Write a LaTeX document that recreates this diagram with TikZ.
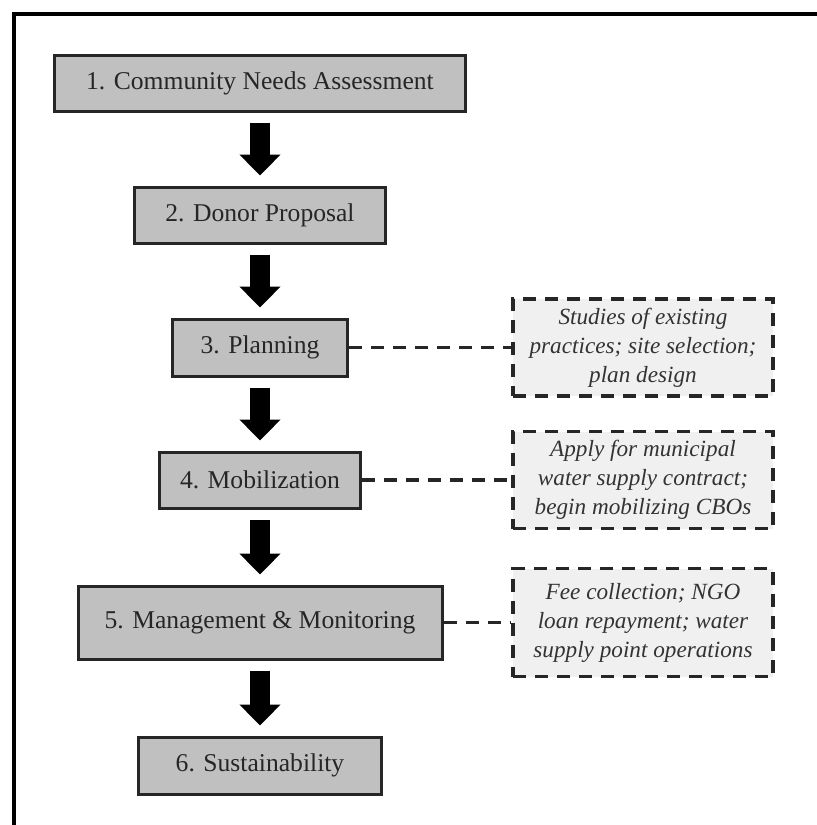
\documentclass[tikz,border=0pt]{standalone}
\usepackage{fontspec}
\setmainfont{Liberation Serif}
\usetikzlibrary{arrows.meta}
\definecolor{boxgray}{RGB}{192,192,192}
\definecolor{notegray}{RGB}{240,240,240}
\tikzset{
    mainbox/.style={draw=black!85, line width=1.5pt, fill=boxgray, inner sep=0pt, text=black!85, font=\fontsize{12.8}{15}\selectfont},
    notebox/.style={draw=black!85, line width=1.7pt, dash pattern=on 6.5pt off 4.5pt, fill=notegray, inner sep=0pt, minimum width=130pt, align=center, text=black!80, font=\fontsize{11.6}{14.5}\selectfont\itshape},
    fatarrow/.style={line width=10pt, -{Triangle[width=20pt,length=10.5pt]}, shorten <=5pt, shorten >=5pt},
    dashlink/.style={draw=black!85, line width=1.7pt, dash pattern=on 6.5pt off 4.5pt}
}
\begin{document}
\begin{tikzpicture}[x=0.5pt, y=-0.5pt]
            \useasboundingbox (0,0) rectangle (817,825);
            \draw[line width=2pt] (817,14) -- (14,14) -- (14,825);
            \node[mainbox, minimum width=205.5pt, minimum height=28pt] (needs) at (260,83.5) {1. Community Needs Assessment};
            \node[mainbox, minimum width=125.5pt, minimum height=28pt] (proposal) at (260,215) {2. Donor Proposal};
            \node[mainbox, minimum width=87.5pt, minimum height=28.5pt] (planning) at (260,347.5) {3. Planning};
            \node[mainbox, minimum width=100.5pt, minimum height=28pt] (mobil) at (260,480) {4. Mobilization};
            \node[mainbox, minimum width=182pt, minimum height=36.5pt] (manage) at (260,622.5) {5. Management \& Monitoring};
            \node[mainbox, minimum width=121.5pt, minimum height=28.5pt] (sustain) at (260,765.5) {6. Sustainability};
            \node[notebox, minimum height=48.5pt] (noteplan) at (643,347.5) {Studies of existing\\practices; site selection;\\plan design};
            \node[notebox, minimum height=48.5pt] (notemobil) at (643,480) {Apply for municipal\\water supply contract;\\begin mobilizing CBOs};
            \node[notebox, minimum height=54pt] (notemanage) at (643,622.5) {Fee collection; NGO\\loan repayment; water\\supply point operations};
            \draw[fatarrow] (needs) -- (proposal);
            \draw[fatarrow] (proposal) -- (planning);
            \draw[fatarrow] (planning) -- (mobil);
            \draw[fatarrow] (mobil) -- (manage);
            \draw[fatarrow] (manage) -- (sustain);
            \draw[dashlink] (planning) -- (noteplan);
            \draw[dashlink] (mobil) -- (notemobil);
            \draw[dashlink] (manage) -- (notemanage);
        \end{tikzpicture}
\end{document}
